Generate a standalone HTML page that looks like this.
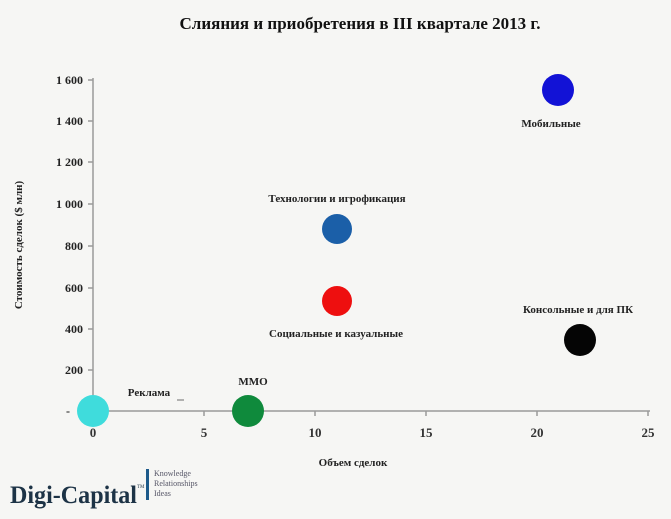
<!DOCTYPE html>
<html><head><meta charset="utf-8"><style>
body{margin:0;background:#f6f6f4;}
svg{display:block;font-family:"Liberation Serif","Noto Serif CJK SC",serif;}
</style></head><body>
<svg width="671" height="519" viewBox="0 0 671 519">
<rect width="671" height="519" fill="#f6f6f4"/>
<text x="360" y="29" text-anchor="middle" font-size="17" font-weight="bold" fill="#111">Слияния и приобретения в III квартале 2013 г.</text>
<g stroke="#9a9a9a" stroke-width="1.5" fill="none">
<line x1="93" y1="78" x2="93" y2="411"/>
<line x1="93" y1="411" x2="650" y2="411"/>
<line x1="88" y1="80" x2="93" y2="80"/><line x1="88" y1="121" x2="93" y2="121"/>
<line x1="88" y1="162" x2="93" y2="162"/><line x1="88" y1="204" x2="93" y2="204"/>
<line x1="88" y1="246" x2="93" y2="246"/><line x1="88" y1="288" x2="93" y2="288"/>
<line x1="88" y1="329" x2="93" y2="329"/><line x1="88" y1="370" x2="93" y2="370"/>
<line x1="204" y1="411" x2="204" y2="416"/><line x1="315" y1="411" x2="315" y2="416"/>
<line x1="426" y1="411" x2="426" y2="416"/><line x1="537" y1="411" x2="537" y2="416"/>
<line x1="648" y1="411" x2="648" y2="416"/>
<line x1="177" y1="400" x2="184" y2="400"/>
</g>
<g font-size="12" font-weight="bold" fill="#222" text-anchor="end">
<text x="83" y="84">1 600</text><text x="83" y="125">1 400</text><text x="83" y="166">1 200</text>
<text x="83" y="208">1 000</text><text x="83" y="250">800</text><text x="83" y="292">600</text>
<text x="83" y="333">400</text><text x="83" y="374">200</text><text x="70" y="415">-</text>
</g>
<g font-size="13" font-weight="bold" fill="#333" text-anchor="middle">
<text x="93" y="437">0</text><text x="204" y="437">5</text><text x="315" y="437">10</text>
<text x="426" y="437">15</text><text x="537" y="437">20</text><text x="648" y="437">25</text>
</g>
<text x="353" y="466" text-anchor="middle" font-size="11" font-weight="bold" fill="#222">Объем сделок</text>
<text transform="translate(22,245) rotate(-90)" text-anchor="middle" font-size="11" font-weight="bold" fill="#222">Стоимость сделок ($ млн)</text>
<circle cx="558" cy="90" r="16" fill="#1212d6"/>
<circle cx="337" cy="229" r="15" fill="#1b5fa8"/>
<circle cx="337" cy="301" r="15" fill="#ee0f0f"/>
<circle cx="580" cy="340" r="16" fill="#050505"/>
<circle cx="248" cy="411" r="16" fill="#0f8a3c"/>
<circle cx="93" cy="411" r="16" fill="#3fdcdc"/>
<g font-size="11" font-weight="bold" fill="#222" text-anchor="middle">
<text x="551" y="127">Мобильные</text>
<text x="337" y="202">Технологии и игрофикация</text>
<text x="336" y="337">Социальные и казуальные</text>
<text x="578" y="313">Консольные и для ПК</text>
<text x="253" y="385">ММО</text>
<text x="149" y="396">Реклама</text>
</g>
<text x="10" y="503" font-size="25" font-weight="bold" fill="#1d3346" textLength="127" lengthAdjust="spacingAndGlyphs">Digi-Capital</text>
<text x="137" y="488" font-size="5" fill="#1d3346">TM</text>
<rect x="146" y="469" width="3" height="31" fill="#1d5a8a"/>
<g font-size="8" fill="#556">
<text x="154" y="476">Knowledge</text><text x="154" y="486">Relationships</text><text x="154" y="496">Ideas</text>
</g>
</svg>
</body></html>
